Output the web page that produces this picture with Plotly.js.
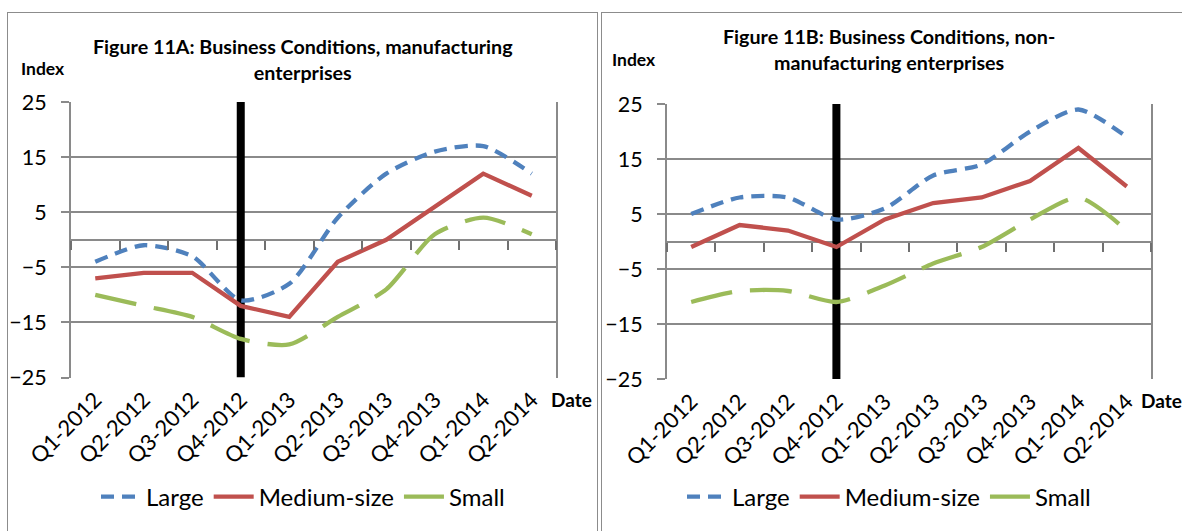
<!DOCTYPE html>
<html>
<head>
<meta charset="utf-8">
<script src="https://cdn.plot.ly/plotly-3.0.1.min.js"></script>
<style>
  html, body { margin: 0; padding: 0; background: #fff; overflow: hidden; }
  #wrap { position: relative; width: 1182px; height: 531px; }
  .frame { position: absolute; border: 1.5px solid #8c8c8c; box-sizing: border-box; }
  #chart { position: absolute; left: 0; top: 0; width: 1182px; height: 531px; }
</style>
</head>
<body>
<div id="wrap">
  <div class="frame" style="left:7px; top:12px; width:591px; height:560px;"></div>
  <div class="frame" style="left:601px; top:12px; width:620px; height:560px;"></div>
  <div id="chart"></div>
</div>
<script>
// ---- data ----
const quarters = ['Q1-2012','Q2-2012','Q3-2012','Q4-2012','Q1-2013','Q2-2013','Q3-2013','Q4-2013','Q1-2014','Q2-2014'];
const seriesNames = ['Large','Medium-size','Small'];
const mfgLarge  = [-4, -1, -3, -11, -8, 4, 12, 16, 17, 12];
const mfgMedium = [-7, -6, -6, -12, -14, -4, 0, 6, 12, 8];
const mfgSmall  = [-10, -12, -14, -18, -19, -14, -9, 1, 4, 1];
const svcLarge  = [5, 8, 8, 4, 6, 12, 14, 20, 24, 19];
const svcMedium = [-1, 3, 2, -1, 4, 7, 8, 11, 17, 10];
const svcSmall  = [-11, -9, -9, -11, -8, -4, -1, 4, 8, 2];
const markerQuarter = 'Q4-2012';
const yMin = -25, yMax = 25, yStep = 10;
const titleA = 'Figure 11A: Business Conditions, manufacturing<br>enterprises';
const titleB = 'Figure 11B: Business Conditions, non-<br>manufacturing enterprises';

// ---- style ----
const W = 1182, H = 531;
const FONT = 'Lato, "Open Sans", sans-serif';
const GRID = '#8a8a8a';
const TICK = '#707070';
const colors = ['#4F81BD', '#C0504D', '#9BBB59'];
const dashes = ['13px,8px', 'solid', '42px,18px'];
const shapes = ['spline', 'linear', 'spline'];

const xDomA = [71 / W, 556 / W];
const xDomB = [667 / W, 1151 / W];
const yDomA = [1 - 377.5 / H, 1 - 102 / H];
const yDomB = [1 - 379 / H, 1 - 104 / H];

function zeroPos(dom) { return dom[0] + (dom[1] - dom[0]) * (0 - yMin) / (yMax - yMin); }
// pixel distance from the zero line down to the bottom of the plot area
function zeroToBottom(dom) { return (zeroPos(dom) - dom[0]) * H; }

function seriesTraces(vals, xa, ya, legend) {
  return vals.map((v, i) => ({
    type: 'scatter', mode: 'lines', x: quarters, y: v, name: seriesNames[i],
    xaxis: xa, yaxis: ya, legend: legend,
    line: { color: colors[i], width: 4.3, dash: dashes[i], shape: shapes[i], smoothing: 0.7 },
    hoverinfo: 'skip'
  }));
}
function markerTrace(xa, ya) {
  return {
    type: 'scatter', mode: 'lines', x: [markerQuarter, markerQuarter], y: [yMin, yMax],
    xaxis: xa, yaxis: ya, showlegend: false, hoverinfo: 'skip',
    line: { color: '#000', width: 8 }
  };
}

const data = [
  markerTrace('x', 'y'),
  ...seriesTraces([mfgLarge, mfgMedium, mfgSmall], 'x', 'y', 'legend'),
  markerTrace('x2', 'y2'),
  ...seriesTraces([svcLarge, svcMedium, svcSmall], 'x2', 'y2', 'legend2')
];

// x axis crosses at y = 0 (tick marks there), labels pushed down to below the plot area
function xAx(dom, ydom) {
  return {
    domain: dom, anchor: 'free', position: zeroPos(ydom), type: 'category',
    categoryorder: 'array', categoryarray: quarters,
    range: [-0.5, quarters.length - 0.5], automargin: false,
    showline: false, showgrid: false, zeroline: false,
    tickson: 'boundaries', ticks: 'outside', ticklen: 9, tickwidth: 2, tickcolor: TICK,
    tickangle: -45, ticklabelstandoff: Math.round(zeroToBottom(ydom)) + 4,
    tickfont: { family: FONT, size: 22, color: '#000' }
  };
}
function yAx(dom, anchor) {
  return {
    domain: dom, anchor: anchor, range: [yMin, yMax], tick0: yMin, dtick: yStep,
    automargin: false, showgrid: true, gridcolor: GRID, gridwidth: 2,
    showline: true, mirror: true, linecolor: GRID, linewidth: 2,
    zeroline: true, zerolinecolor: GRID, zerolinewidth: 2,
    ticks: 'outside', ticklen: 8, tickwidth: 2, tickcolor: GRID, ticklabelstandoff: 10,
    tickfont: { family: FONT, size: 21.5, color: '#000' }
  };
}
function legendAt(xc) {
  return {
    orientation: 'h', x: xc, xanchor: 'center', y: 1 - 497 / H, yanchor: 'middle',
    font: { family: FONT, size: 24, color: '#000' }, bgcolor: 'rgba(0,0,0,0)', itemclick: false,
    itemwidth: 40, tracegroupgap: 0
  };
}
function ann(text, x, y, size, xanchor) {
  return { text: text, xref: 'paper', yref: 'paper', x: x / W, y: 1 - y / H, xanchor: xanchor || 'center',
    yanchor: 'middle', showarrow: false, align: 'center',
    font: { family: FONT, size: size, color: '#000', weight: 'bold' } };
}

const layout = {
  width: W, height: H, margin: { l: 0, r: 0, t: 0, b: 0 },
  paper_bgcolor: 'rgba(0,0,0,0)', plot_bgcolor: 'rgba(0,0,0,0)',
  xaxis: xAx(xDomA, yDomA), yaxis: yAx(yDomA, 'x'),
  xaxis2: xAx(xDomB, yDomB), yaxis2: yAx(yDomB, 'x2'),
  legend: legendAt(303 / W), legend2: legendAt(889 / W),
  annotations: [
    ann(titleA, 303, 59, 19.7),
    ann(titleB, 889, 50, 19.7),
    ann('Index', 19, 68, 17.5, 'left'),
    ann('Index', 610, 59, 17.5, 'left'),
    ann('Date', 549, 399, 19, 'left'),
    ann('Date', 1139, 400, 19, 'left')
  ]
};

Plotly.newPlot('chart', data, layout, { staticPlot: true, displayModeBar: false });
</script>
</body>
</html>
